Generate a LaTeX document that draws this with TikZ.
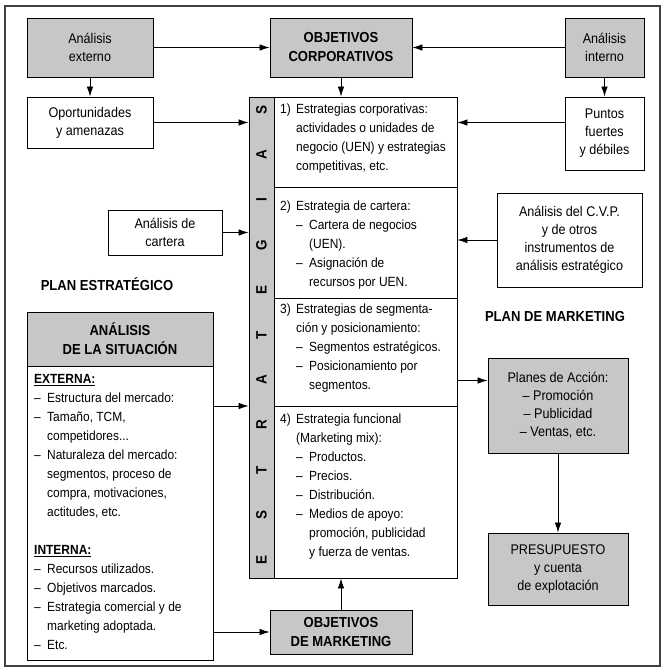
\documentclass[tikz,border=0pt]{standalone}
\usepackage{fontspec}
\setmainfont{Liberation Sans}[FakeStretch=0.9]
\usetikzlibrary{positioning,arrows.meta,calc}
\definecolor{boxgray}{gray}{0.78}
\tikzset{base/.style={draw, line width=0.9pt, align=center, inner sep=2pt, font=\fontsize{14}{18}\selectfont}}
\tikzset{gbox/.style={base, fill=boxgray}}
\tikzset{wbox/.style={base, fill=white}}
\tikzset{arr/.style={draw, -{Latex[length=10pt,width=6.5pt]}, line width=0.8pt}}
\tikzset{txt/.style={anchor=north west, align=left, inner sep=0pt, font=\fontsize{13.3}{19}\selectfont}}
\newcommand\nit[1]{\makebox[16pt][l]{#1}}
\newcommand\dit{\hspace*{16pt}\makebox[13pt][l]{--}}
\newcommand\ind{\hspace*{29pt}}
\newcommand\sdit{\makebox[13pt][l]{--}}
\newcommand\sind{\hspace*{13pt}}

\begin{document}
\begin{tikzpicture}[x=1pt,y=-1pt]
\useasboundingbox (0,0) rectangle (667,672);
\draw[line width=1.2pt, black!75] (5,6) rectangle (660,666);

% fila superior
\node[gbox, minimum width=126, minimum height=59] (extA) at (90,47.5) {Análisis\\externo};
\node[gbox, minimum width=142, minimum height=59, font=\fontsize{14.5}{19}\selectfont\bfseries] (objC) at (341,47.5) {OBJETIVOS\\CORPORATIVOS};
\node[gbox, minimum width=79, minimum height=59] (intA) at (604.5,47.5) {Análisis\\interno};

\node[wbox, minimum width=126, minimum height=51] (opor) at (90,122.5) {Oportunidades\\y amenazas};
\node[wbox, minimum width=79, minimum height=73] (ptos) at (604.5,133.5) {Puntos\\fuertes\\y débiles};

% estrategias
\node[draw, line width=0.9pt, fill=boxgray, minimum width=25, minimum height=481, inner sep=0] (strip) at (261.5,337.5) {};
\node[draw, line width=0.9pt, fill=white, minimum width=183, minimum height=481, inner sep=0] (estr) at (365.5,337.5) {};
\foreach \l [count=\i from 0] in {E,S,T,R,A,T,E,G,I,A,S}
  \node[rotate=90, font=\fontsize{15}{15}\selectfont\bfseries] (l\i) at (261.5,560-45*\i) {\l};
\draw[line width=0.9pt] (274,187) -- (457,187) (274,298) -- (457,298) (274,406) -- (457,406);

\node[txt] (s1) at (280,104) {\nit{1)}Estrategias corporativas:\\\hspace*{16pt}actividades o unidades de\\\hspace*{16pt}negocio (UEN) y estrategias\\\hspace*{16pt}competitivas, etc.};
\node[txt] (s2) at (280,201) {\nit{2)}Estrategia de cartera:\\\dit Cartera de negocios\\\ind(UEN).\\\dit Asignación de\\\ind recursos por UEN.};
\node[txt] (s3) at (280,304) {\nit{3)}Estrategias de segmenta-\\\hspace*{16pt}ción y posicionamiento:\\\dit Segmentos estratégicos.\\\dit Posicionamiento por\\\ind segmentos.};
\node[txt] (s4) at (280,414) {\nit{4)}Estrategia funcional\\\hspace*{16pt}(Marketing mix):\\\dit Productos.\\\dit Precios.\\\dit Distribución.\\\dit Medios de apoyo:\\\ind promoción, publicidad\\\ind y fuerza de ventas.};

% izquierda
\node[wbox, minimum width=114, minimum height=45] (cart) at (165,232.5) {Análisis de\\cartera};
\node[font=\fontsize{14.5}{14}\selectfont\bfseries] (pe) at (107,284) {PLAN ESTRATÉGICO};
\node[gbox, minimum width=186, minimum height=54, font=\fontsize{14.5}{19}\selectfont\bfseries] (sitH) at (120,339) {ANÁLISIS\\DE LA SITUACIÓN};
\node[wbox, minimum width=186, minimum height=294] (sitB) at (120,513) {};
\node[txt] (sitT) at (34,374) {\textbf{\underline{EXTERNA:}}\\\sdit Estructura del mercado:\\\sdit Tamaño, TCM,\\\sind competidores...\\\sdit Naturaleza del mercado:\\\sind segmentos, proceso de\\\sind compra, motivaciones,\\\sind actitudes, etc.\\[19pt]\textbf{\underline{INTERNA:}}\\\sdit Recursos utilizados.\\\sdit Objetivos marcados.\\\sdit Estrategia comercial y de\\\sind marketing adoptada.\\\sdit Etc.};

% derecha
\node[wbox, minimum width=145, minimum height=94] (cvp) at (569.5,240) {Análisis del C.V.P.\\y de otros\\instrumentos de\\análisis estratégico};
\node[font=\fontsize{14.5}{14}\selectfont\bfseries] (pm) at (555,317) {PLAN DE MARKETING};
\node[gbox, minimum width=140, minimum height=95] (plan) at (558,405.5) {Planes de Acción:\\-- Promoción\\-- Publicidad\\-- Ventas, etc.};
\node[gbox, minimum width=140, minimum height=72] (pres) at (558,569) {PRESUPUESTO\\y cuenta\\de explotación};
\node[gbox, minimum width=142, minimum height=44, font=\fontsize{14.5}{19}\selectfont\bfseries] (objM) at (341,632) {OBJETIVOS\\DE MARKETING};

% conectores
\draw[arr] (extA) -- (objC);
\draw[arr] (intA) -- (objC);
\draw[arr] (extA) -- (opor);
\draw[arr] (intA) -- (ptos);
\draw[arr] (objC) -- (objC |- strip.north);
\draw[arr] (opor.east) -- (opor.east -| strip.west);
\draw[arr] (ptos.west |- opor.east) -- (opor.east -| estr.east);
\draw[arr] (cart) -- (cart -| strip.west);
\draw[arr] (cvp) -- (cvp -| estr.east);
\draw[arr] (sitB.east |- s4.north) ++(0,-8) coordinate (c1) -- (c1 -| strip.west);
\draw[arr] (estr.east |- plan.west) ++(0,-25) coordinate (c2) -- (c2 -| plan.west);
\draw[arr] (plan) -- (pres);
\draw[arr] (sitB.east |- objM) -- (objM);
\draw[arr] (objM) -- (objM |- estr.south);
\end{tikzpicture}
\end{document}
